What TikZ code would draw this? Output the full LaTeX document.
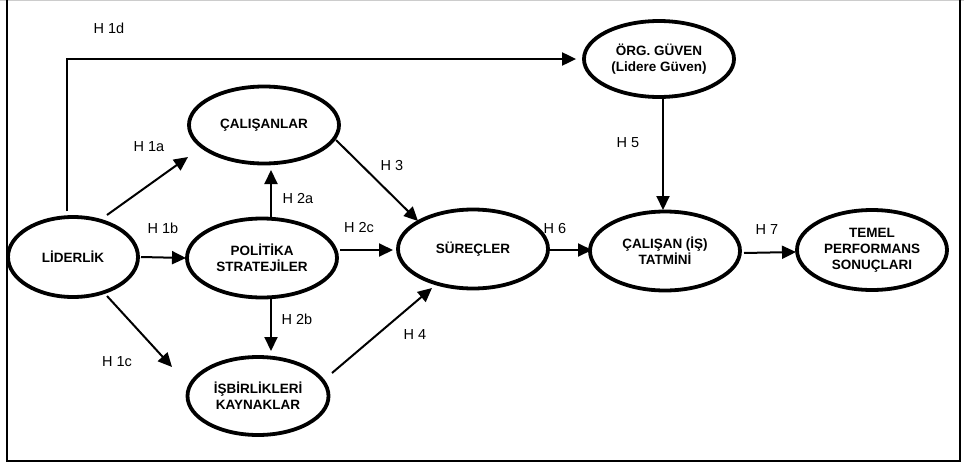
\documentclass[tikz,border=0pt]{standalone}
\usepackage{fontspec}
\setmainfont{Liberation Sans}[BoldFont={Liberation Sans Bold}]
\usetikzlibrary{shapes.geometric,arrows.meta,calc}
\begin{document}
\begin{tikzpicture}[x=1pt,y=-1pt,
  oval/.style={draw,ellipse,line width=3.8pt,inner sep=0pt,minimum width=150pt,minimum height=79pt,
    align=center,font=\fontsize{13.5}{16}\selectfont\bfseries},
  arr/.style={line width=2pt,-{Triangle[length=14pt,width=13pt]}},
  lbl/.style={font=\fontsize{14.5}{16}\selectfont,inner sep=0pt}]
\useasboundingbox (0,0) rectangle (964,466);
\draw[line width=0.8pt,gray!40] (0,0.5) -- (964,0.5);
\draw[line width=2.2pt] (7,0) -- (7,461) -- (960,461) -- (960,0);
% nodes
\node[oval,minimum width=130pt,minimum height=80pt] (lid) at (73,257) {LİDERLİK};
\node[oval,minimum height=77pt] (cal) at (264,125) {ÇALIŞANLAR};
\node[oval] (pol) at (262,258) {POLİTİKA\\STRATEJİLER};
\node[oval,minimum width=141pt,minimum height=78pt] (isb) at (258,396) {İŞBİRLİKLERİ\\KAYNAKLAR};
\node[oval] (sur) at (473,249) {SÜREÇLER};
\node[oval,minimum height=76pt] (org) at (659,59) {ÖRG. GÜVEN\\(Lidere Güven)};
\node[oval] (tat) at (665,251) {ÇALIŞAN (İŞ)\\TATMİNİ};
\node[oval,minimum height=80pt] (tem) at (872,250) {TEMEL\\PERFORMANS\\SONUÇLARI};
% connectors
\draw[arr] ($(lid)+(-6,-46)$) |- ($(org.west)+(-6,0)$);
\draw[arr] ($(lid)+(34,-42)$) -- ($(cal)+(-76,32)$);
\draw[arr] ($(lid)+(68,0)$) -- ($(pol)+(-76,0)$);
\draw[arr] ($(lid)+(34,39)$) -- ($(isb)+(-86,-29)$);
\draw[arr] ($(pol)+(9,-40)$) -- ($(cal)+(7,45)$);
\draw[arr] ($(pol)+(9,40)$) -- ($(isb)+(13,-45)$);
\draw[arr] ($(pol)+(78,-8)$) -- ($(sur)+(-80,1)$);
\draw[arr] ($(cal)+(72,15)$) -- ($(sur)+(-55,-28)$);
\draw[arr] ($(isb)+(74,-23)$) -- ($(sur)+(-41,39)$);
\draw[arr] ($(sur)+(76,1)$) -- ($(tat)+(-73,-1)$);
\draw[arr] ($(org)+(4,38)$) -- ($(tat)+(-2,-41)$);
\draw[arr] ($(tat)+(79,2)$) -- ($(tem)+(-76,2)$);
% labels
\node[lbl] (l1d) at (109,28) {H 1d};
\node[lbl] (l1a) at (149,147) {H 1a};
\node[lbl] (l1b) at (163,228) {H 1b};
\node[lbl] (l1c) at (117,362) {H 1c};
\node[lbl] (l2a) at (298,199) {H 2a};
\node[lbl] (l2b) at (297,319) {H 2b};
\node[lbl] (l2c) at (359,228) {H 2c};
\node[lbl] (l3) at (392,166) {H 3};
\node[lbl] (l4) at (415,335) {H 4};
\node[lbl] (l5) at (628,143) {H 5};
\node[lbl] (l6) at (555,229) {H 6};
\node[lbl] (l7) at (767,230) {H 7};
\end{tikzpicture}
\end{document}
